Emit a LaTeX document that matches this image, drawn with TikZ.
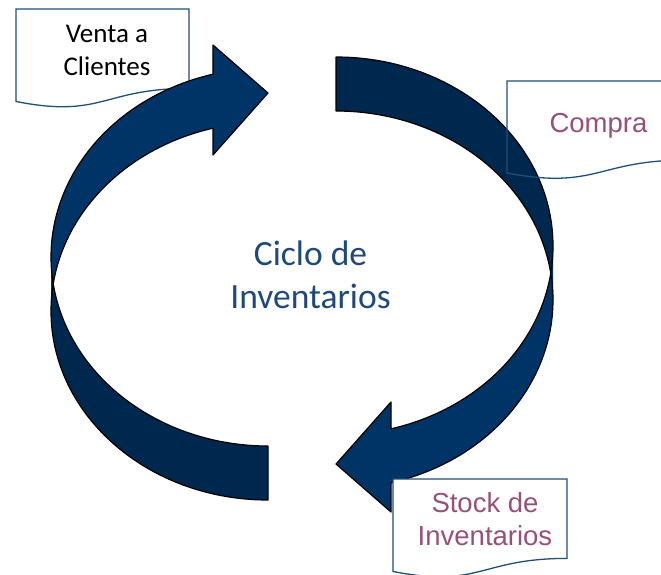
\documentclass[tikz,border=0pt]{standalone}
\usepackage{fontspec}
\setmainfont{Carlito}
\newfontfamily\arialfont{Liberation Sans}
\definecolor{arrowfront}{RGB}{0,52,102}
\definecolor{arrowback}{RGB}{0,40,78}
\definecolor{cycleblue}{RGB}{31,73,125}
\definecolor{boxline}{RGB}{31,78,121}
\definecolor{mauve}{RGB}{152,80,122}
% document shaped label box: x, y (top left), width, height, options
\newcommand{\docbox}[5]{%
  \draw[docbox,#5] (#1,#2) -- (#1+#3,#2) -- (#1+#3,#2+0.802*#4)
    .. controls (#1+0.5*#3,#2+0.802*#4) and (#1+0.5*#3,#2+1.1075*#4) .. (#1,#2+0.934*#4) -- cycle;}

\begin{document}
\begin{tikzpicture}[x=1pt,y=-1pt]
    \tikzstyle{docbox}=[draw=boxline,line width=1.3pt]
    \tikzstyle{band}=[draw=black,line width=1.2pt,line join=round]
    \tikzstyle{ring}=[x radius=217,y radius=189]
    \tikzstyle{cycle text}=[font=\fontsize{35.5}{43.3}\selectfont,text=cycleblue,align=center]
    \tikzstyle{venta text}=[font=\fontsize{27}{33}\selectfont,text=black,align=center]
    \tikzstyle{box text}=[font=\arialfont\fontsize{27.5}{33}\selectfont,text=mauve,align=center]
    \useasboundingbox (0,0) rectangle (661,574);

    \docbox{16}{9}{173}{99}{fill=white}

    % the two curved arrows, the second one turned half round
    \foreach \rot in {0,180}
    {
        \begin{scope}[rotate around={\rot:(302,278.5)}]
            \fill[arrowback] (51,311) arc[ring,start angle=180,end angle=90]
                -- (268,446) arc[ring,start angle=90,end angle=180] -- cycle;
            \fill[arrowfront] (51,257) arc[ring,start angle=180,end angle=255.3]
                -- (213,45) -- (268,93) -- (213,155)
                -- (213,128.2) arc[ring,start angle=255.3,end angle=180] -- cycle;
            \draw[band] (213,74.2) arc[ring,start angle=255.3,end angle=90]
                -- (268,500) arc[ring,start angle=90,end angle=255.3]
                -- (213,155) -- (268,93) -- (213,45) -- cycle;
        \end{scope}
    }

    \docbox{393}{479}{174}{99}{fill=white}
    \docbox{507}{81}{180}{98.5}{}

    \node[cycle text] (ciclo) at (310.5,275) {Ciclo de\\Inventarios};
    \node[venta text] (venta) at (107,50) {Venta a\\Clientes};
    \node[box text,anchor=base] (compra) at (598.5,132) {Compra};
    \node[box text] (stock) at (485,519.5) {Stock de\\Inventarios};
\end{tikzpicture}
\end{document}
